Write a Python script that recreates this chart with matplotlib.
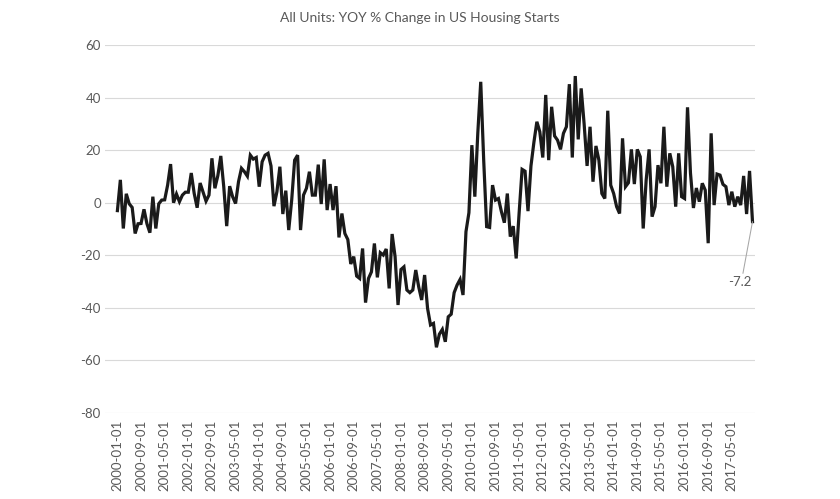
import matplotlib
matplotlib.use("Agg")
import matplotlib.pyplot as plt
import pandas as pd

# YOY % change in US housing starts, monthly from 2000-01
start_month = "2000-01-01"
yoy_change = [
    -3.0, 8.7, -9.8, 3.4, -0.4, -1.8, -11.7, -8.0, -7.9, -2.5, -8.0, -11.4,
    2.3, -9.8, -0.4, 1.0, 1.1, 6.7, 14.7, 0.0, 3.3, 0.4, 2.9, 4.0,
    4.0, 11.3, 3.5, -1.9, 7.5, 4.0, 0.6, 2.9, 16.9, 5.5, 10.3, 17.8,
    6.1, -8.9, 6.3, 2.3, -0.3, 8.0, 13.1, 11.8, 10.1, 18.1, 16.6, 17.2,
    6.1, 15.6, 18.1, 18.8, 14.0, -1.3, 4.2, 13.7, -4.3, 4.6, -10.4, 1.0,
    16.2, 18.1, -10.4, 2.9, 5.5, 11.8, 2.9, 2.9, 14.5, -0.5, 16.5, -2.8,
    7.1, -2.8, 6.3, -13.2, -4.1, -11.7, -14.0, -23.3, -20.5, -27.9, -28.8, -17.4,
    -38.0, -28.8, -26.3, -15.5, -28.4, -19.0, -19.9, -17.6, -32.6, -11.9, -20.5, -38.9,
    -25.4, -24.4, -33.2, -34.2, -33.2, -25.6, -32.0, -37.0, -27.5, -40.2, -46.5, -45.9,
    -55.0, -50.0, -48.2, -52.9, -43.4, -42.4, -34.2, -31.3, -29.2, -35.1, -11.0, -3.8,
    21.9, 2.3, 26.4, 46.0, 16.2, -9.1, -9.4, 6.7, 1.0, 1.6, -3.4, -7.6,
    3.5, -12.9, -8.9, -21.2, -3.8, 12.7, 12.0, -3.2, 14.0, 23.0, 30.8, 27.0,
    17.2, 41.0, 16.2, 36.5, 25.4, 23.8, 20.3, 26.4, 28.9, 45.1, 17.2, 48.2,
    24.1, 43.5, 30.0, 14.0, 28.9, 8.0, 21.6, 16.2, 3.5, 1.6, 35.0, 6.7,
    3.5, -1.5, -4.1, 24.5, 6.1, 7.6, 20.3, 7.1, 20.3, 17.5, -9.8, 8.6,
    20.3, -5.3, -1.5, 14.3, 7.4, 28.9, 6.1, 18.8, 13.7, -1.5, 18.8, 2.3,
    1.6, 36.3, 11.3, -2.0, 5.6, 0.4, 7.4, 4.8, -15.4, 26.4, -0.9, 10.9,
    10.5, 7.0, 6.1, -0.9, 4.2, -1.5, 2.3, -0.9, 10.2, -4.3, 12.1, -7.2,
]
y_ticks = [-80, -60, -40, -20, 0, 20, 40, 60]
label_every = 8  # months between x tick labels

dates = pd.date_range(start_month, periods=len(yoy_change), freq="MS")
x = list(range(len(dates)))

plt.rcParams["font.family"] = ["Lato", "DejaVu Sans"]
plt.rcParams["axes.unicode_minus"] = False
text_color = "#595959"

fig = plt.figure(figsize=(8.4, 4.99), dpi=100)
ax = fig.add_axes([0.125, 0.1723, 0.774, 0.7375])

ax.plot(x, yoy_change, color="#1a1a1a", linewidth=2.3, solid_joinstyle="miter")

ax.set_ylim(-80, 60)
ax.set_yticks(y_ticks)
ax.set_xlim(-4.2, len(x) - 0.1)
tick_idx = x[::label_every]
ax.set_xticks(tick_idx)
ax.set_xticklabels([dates[i].strftime("%Y-%m-%d") for i in tick_idx], rotation=90)

ax.yaxis.grid(True, color="#d9d9d9", linewidth=0.8)
ax.set_axisbelow(True)
for side in ["top", "right", "left", "bottom"]:
    ax.spines[side].set_visible(False)
ax.tick_params(axis="both", length=0, colors=text_color, labelsize=9.5)
ax.tick_params(axis="y", pad=3)
ax.tick_params(axis="x", pad=5)

# label for the last point
last = len(yoy_change) - 1
ax.annotate(f"{yoy_change[last]:.1f}", xy=(x[last], yoy_change[last]),
            xytext=(x[last] - 4.2, -30.2), ha="center", va="center",
            fontsize=9.5, color=text_color,
            arrowprops=dict(arrowstyle="-", color="#a6a6a6", lw=0.75,
                            shrinkA=0, shrinkB=0, relpos=(0.6, 1.0)))

fig.suptitle("All Units: YOY % Change in US Housing Starts", y=0.964, va="center",
             fontsize=10, color=text_color)

fig.savefig("out.png", dpi=100, facecolor="white")
